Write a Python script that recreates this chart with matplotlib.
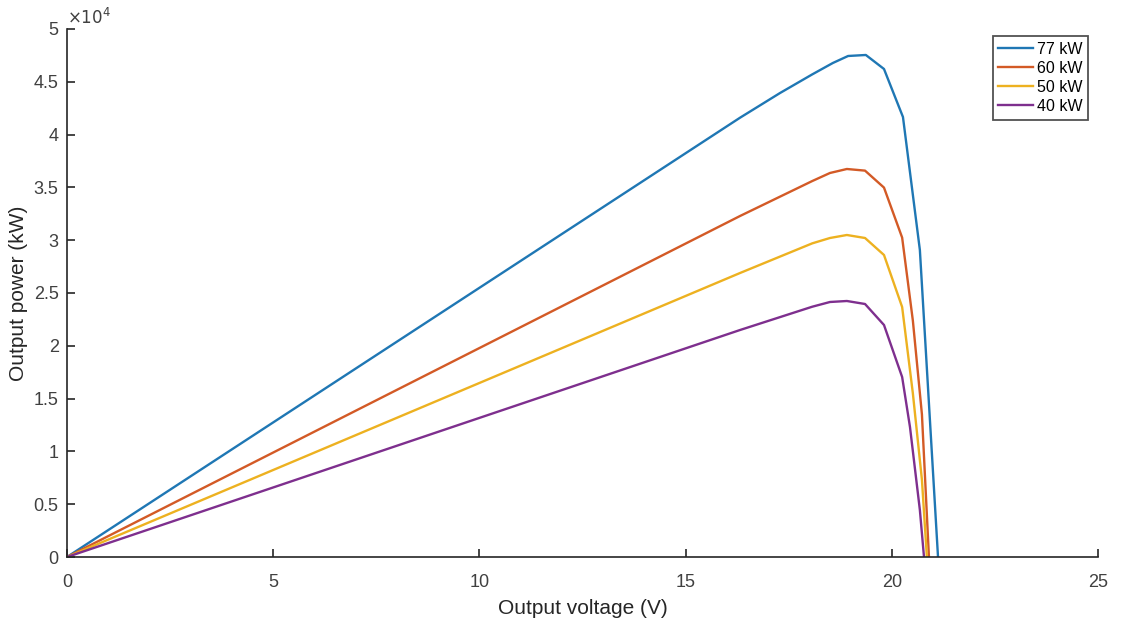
import matplotlib
matplotlib.use('Agg')
import matplotlib.pyplot as plt
from matplotlib.ticker import FuncFormatter

plt.rcParams['font.family'] = ['Liberation Sans', 'DejaVu Sans']

# P-V curves (V, W)
v_77 = [0, 16.32, 17.29, 18.07, 18.57, 18.94, 19.37, 19.81, 20.27, 20.68, 21.12]
p_77 = [0, 41600, 43939, 45700, 46780, 47443, 47538, 46212, 41667, 29072, 0]

v_60 = [0, 16.32, 18.07, 18.50, 18.91, 19.35, 19.81, 20.25, 20.51, 20.73, 20.90]
p_60 = [0, 32292, 35600, 36364, 36742, 36587, 34981, 30246, 22386, 13500, 0]

v_50 = [0, 16.32, 18.07, 18.50, 18.91, 19.35, 19.81, 20.25, 20.51, 20.73, 20.85]
p_50 = [0, 26894, 29700, 30208, 30492, 30208, 28598, 23674, 15500, 7300, 0]

v_40 = [0, 16.32, 18.07, 18.50, 18.91, 19.35, 19.81, 20.25, 20.44, 20.68, 20.78]
p_40 = [0, 21496, 23700, 24148, 24242, 23958, 21970, 17045, 12311, 4450, 0]

labels = ['77 kW', '60 kW', '50 kW', '40 kW']
colors = ['#1F77B4', '#D35A26', '#EDB120', '#7E2F8E']

fig = plt.figure(figsize=(11.24, 6.18), dpi=100)
ax = fig.add_axes([0.0596, 0.0987, 0.9173, 0.8544])

for v, p, lab, c in zip([v_77, v_60, v_50, v_40], [p_77, p_60, p_50, p_40], labels, colors):
    ax.plot(v, p, color=c, lw=1.7, label=lab)

ax.set_xlim(0, 25)
ax.set_ylim(0, 50000)
ax.set_xticks([0, 5, 10, 15, 20, 25])
ax.set_yticks([i * 5000 for i in range(11)])
ax.yaxis.set_major_formatter(FuncFormatter(lambda y, pos: ('%g' % (y / 1e4))))

for s in ['top', 'right']:
    ax.spines[s].set_visible(False)
for s in ['left', 'bottom']:
    ax.spines[s].set_color('#262626')
    ax.spines[s].set_linewidth(1.2)
ax.tick_params(direction='in', length=6, width=1.2, colors='#262626',
               labelsize=13, labelcolor='#404040')
ax.tick_params(axis='x', pad=12)
ax.tick_params(axis='y', pad=6)

ax.set_xlabel('Output voltage (V)', fontsize=15, color='#262626', labelpad=6)
ax.set_ylabel('Output power (kW)', fontsize=15, color='#262626', labelpad=4)

ax.text(0.0, 1.003, r'$\times10^4$', transform=ax.transAxes, fontsize=12,
        color='#404040', ha='left', va='bottom')

leg = ax.legend(loc='upper right', bbox_to_anchor=(0.990, 0.986), fontsize=11.5,
                frameon=True, fancybox=False, edgecolor='#262626',
                handlelength=2.2, handletextpad=0.2, borderpad=0.35,
                labelspacing=0.25, borderaxespad=0.0)
leg.get_frame().set_linewidth(1.3)

fig.savefig('out.png', dpi=100, facecolor='white')
